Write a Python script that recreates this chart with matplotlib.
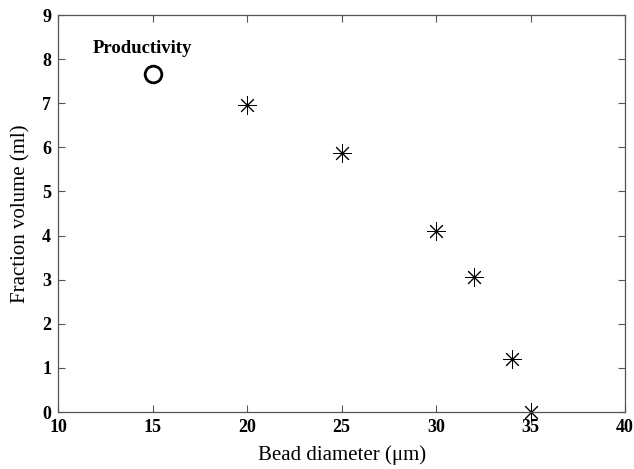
import matplotlib.pyplot as plt

# data
diam = [20, 25, 30, 32, 34, 35]
volume = [6.97, 5.87, 4.10, 3.05, 1.20, 0.0]
prod_x = [15]
prod_y = [7.67]

plt.rcParams['font.family'] = ['Liberation Serif', 'DejaVu Serif']

fig = plt.figure(figsize=(6.34, 4.69), dpi=100)
ax = fig.add_axes([0.0915, 0.1215, 0.8945, 0.8465])

ax.plot(diam, volume, linestyle='none', marker=(8, 2, 0), markersize=13,
        color='black', markeredgewidth=0.7, clip_on=False)
ax.plot(prod_x, prod_y, linestyle='none', marker='o', markersize=12,
        markerfacecolor='none', markeredgecolor='black', markeredgewidth=2)
ax.text(11.85, 8.25, 'Productivity', fontsize=13.5, fontweight='bold',
        va='center', ha='left')

ax.set_xlim(10, 40)
ax.set_ylim(0, 9)
ax.set_xticks(range(10, 41, 5))
ax.set_yticks(range(0, 10))
ax.tick_params(direction='in', top=True, right=True, length=5,
               width=0.8, color='#555555', labelsize=13, pad=5)
for lab in ax.get_xticklabels() + ax.get_yticklabels():
    lab.set_fontweight('bold')
for s in ax.spines.values():
    s.set_color('#555555')
    s.set_linewidth(0.9)

ax.set_xlabel('Bead diameter (μm)', fontsize=15, labelpad=7)
ax.set_ylabel('Fraction volume (ml)', fontsize=15, labelpad=8)

fig.savefig('out.png', dpi=100)
